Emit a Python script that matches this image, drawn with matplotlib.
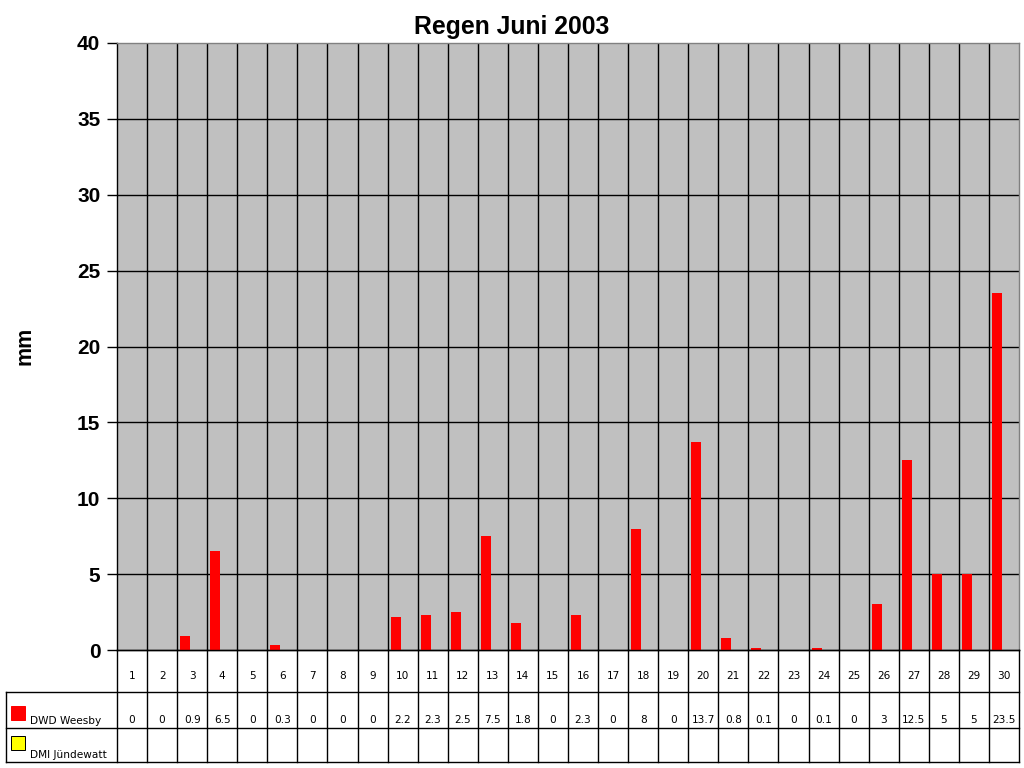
import matplotlib.pyplot as plt
import numpy as np

days = [str(d) for d in range(1, 31)]
dwd_weesby = [0, 0, 0.9, 6.5, 0, 0.3, 0, 0, 0, 2.2, 2.3, 2.5, 7.5, 1.8, 0,
              2.3, 0, 8, 0, 13.7, 0.8, 0.1, 0, 0.1, 0, 3, 12.5, 5, 5, 23.5]
dmi_juendewatt = [None] * 30
series_names = ['DWD Weesby', 'DMI Jündewatt']
series_colors = ['#FF0000', '#FFFF00']
yticks = [0, 5, 10, 15, 20, 25, 30, 35, 40]

W, H = 1024, 768
px = 0.72  # one pixel in points at dpi 100
lw = 1.0

# plot area in pixels
left, right, top, bottom = 117, 1019, 43, 650
tab_left, tab_bottom = 6, 762
row_edges = [650, 692, 728, 762]

fig = plt.figure(figsize=(W / 100, H / 100), dpi=100)

ax = fig.add_axes([left / W, (H - bottom) / H, (right - left) / W, (bottom - top) / H])
ax.set_facecolor('#C0C0C0')
x = np.arange(len(days))
ax.bar(x - 0.233, dwd_weesby, width=0.333, color=series_colors[0], zorder=3)
ax.set_xlim(-0.5, len(days) - 0.5)
ax.set_ylim(0, 40)
ax.set_yticks(yticks)
ax.set_yticklabels([str(t) for t in yticks], fontfamily='Liberation Sans',
                   fontweight='bold', fontsize=15)
ax.tick_params(axis='y', direction='out', length=7, width=lw, colors='black', pad=5)
ax.set_xticks([])
for yv in yticks[1:-1]:
    ax.axhline(yv, color='black', lw=lw, zorder=1)
for i in range(1, len(days)):
    ax.axvline(i - 0.5, color='black', lw=lw, zorder=1)
for s in ['left', 'bottom']:
    ax.spines[s].set_color('black')
    ax.spines[s].set_linewidth(lw)
for s in ['top', 'right']:
    ax.spines[s].set_color('#808080')
    ax.spines[s].set_linewidth(lw)

fig.text(0.5, 1 - 27 / H, 'Regen Juni 2003', ha='center', va='center',
         fontfamily='Liberation Sans', fontweight='bold', fontsize=17.8)
fig.text(25 / W, 1 - 346 / H, 'mm', rotation=90, ha='center', va='center',
         fontfamily='Liberation Sans', fontweight='bold', fontsize=15.5)

# data table under the chart
col_w = (right - left) / len(days)
tab = fig.add_axes([tab_left / W, (H - tab_bottom) / H, (right - tab_left) / W,
                    (tab_bottom - row_edges[0]) / H])
x0 = -0.5 - (left - tab_left) / col_w
tab.set_xlim(x0, len(days) - 0.5)
tab.set_ylim(tab_bottom, row_edges[0])
tab.axis('off')
lk = dict(color='black', lw=lw, clip_on=False)
# horizontal lines
tab.plot([-0.5, len(days) - 0.5], [row_edges[0]] * 2, **lk)
for yv in row_edges[1:]:
    tab.plot([x0, len(days) - 0.5], [yv] * 2, **lk)
# vertical lines
for i in range(len(days) + 1):
    tab.plot([i - 0.5] * 2, [row_edges[0], tab_bottom], **lk)
tab.plot([x0] * 2, [row_edges[1], tab_bottom], **lk)

tfont = dict(fontfamily='DejaVu Sans', fontsize=7.6, ha='center', va='center')
for i, d in enumerate(days):
    tab.text(i, 676, d, **tfont)
    tab.text(i, 720, f'{dwd_weesby[i]:g}', **tfont)
    if dmi_juendewatt[i] is not None:
        tab.text(i, 754, f'{dmi_juendewatt[i]:g}', **tfont)

key_w = 14 / col_w
for name, color, yk, yt in zip(series_names, series_colors, [706, 736], [721, 755]):
    tab.add_patch(plt.Rectangle((x0 + 5 / col_w, yk + 14), key_w, -14,
                                facecolor=color, edgecolor='black' if color == '#FFFF00' else color,
                                lw=px, clip_on=False))
    tab.text(x0 + 24 / col_w, yt, name, fontfamily='DejaVu Sans', fontsize=7.6,
             ha='left', va='center')

fig.savefig('out.png', dpi=100)
